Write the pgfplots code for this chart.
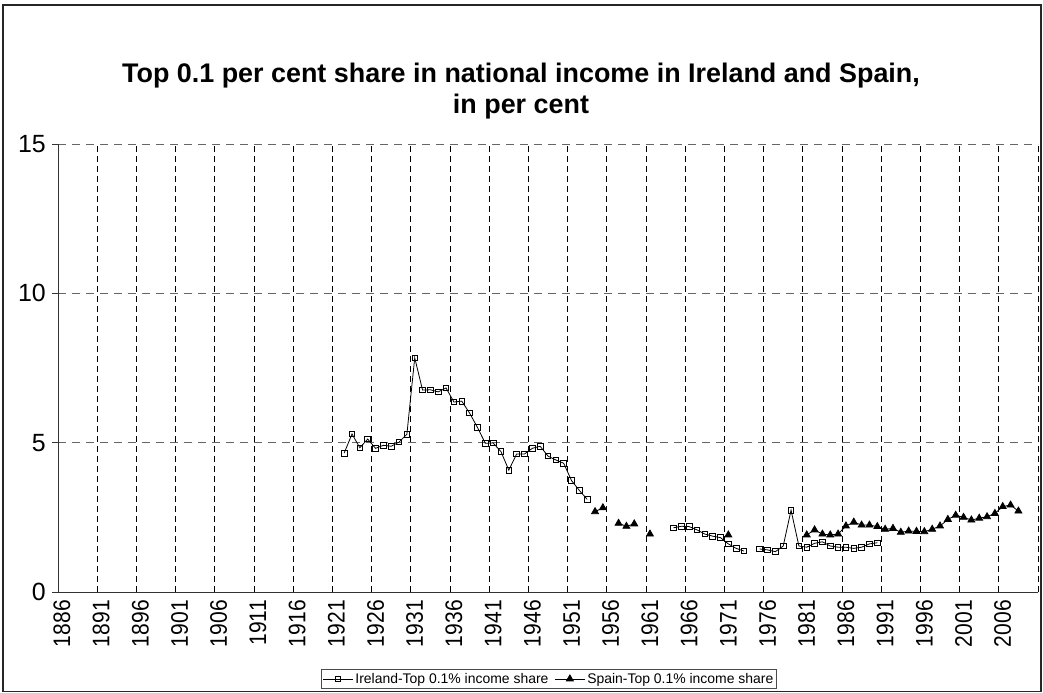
\documentclass[border=0pt]{standalone}
\usepackage{fontspec}
\setmainfont{Liberation Sans}
\usepackage{pgfplots}
\pgfplotsset{compat=1.18}
\newcommand\sx[1]{\scalebox{0.88}[1]{#1}}
\begin{document}
\begin{tikzpicture}[x=1bp,y=1bp]
\path (0,0) rectangle (1043,693);
\draw[line width=1.2bp, black!85] (3,1.5) rectangle (1041,688);
\node[font=\fontsize{27}{30.5}\selectfont\bfseries, align=center] at (521,602) {Top 0.1 per cent share in national income in Ireland and Spain,\\in per cent};
\begin{axis}[
  at={(58bp,101bp)}, anchor=south west,
  scale only axis, width=980bp, height=448bp,
  xmin=1885.5, xmax=2010.5, ymin=0, ymax=15,
  axis lines*=left,
  axis line style={black!80, line width=0.9bp},
  /pgf/number format/assume math mode=true,
  xtick={1886,1891,...,2006},
  xticklabels={\sx{1886},\sx{1891},\sx{1896},\sx{1901},\sx{1906},\sx{1911},\sx{1916},\sx{1921},\sx{1926},\sx{1931},\sx{1936},\sx{1941},\sx{1946},\sx{1951},\sx{1956},\sx{1961},\sx{1966},\sx{1971},\sx{1976},\sx{1981},\sx{1986},\sx{1991},\sx{1996},\sx{2001},\sx{2006}},
  xtick style={draw=none},
  minor xtick={1885.5,1890.5,...,2010.5},
  minor x tick style={black!80, line width=0.9bp},
  minor tick length=6bp,
  xminorgrids=true,
  minor x grid style={black, dash pattern=on 6bp off 4bp, line width=0.8bp},
  ytick={0,5,10,15},
  yticklabels={0,5,10,15},
  ymajorgrids=true,
  major y grid style={black!60, dash pattern=on 8bp off 6bp, line width=0.8bp},
  y tick style={black!80, line width=0.9bp},
  tick align=outside,
  major tick length=6bp,
  xticklabel style={rotate=90, anchor=east, font=\fontsize{24}{24}\selectfont, inner sep=2bp},
  yticklabel style={font=\fontsize{25}{25}\selectfont, inner sep=3bp, xshift=-3bp},
  unbounded coords=jump,
  legend style={at={(0.501,-0.194)}, anchor=center, legend columns=2, draw=black!70, line width=0.8bp,
    font=\fontsize{14}{16}\selectfont, inner sep=1.5bp,
    /tikz/every even column/.append style={column sep=4bp}},
  legend image code/.code={\draw[mark repeat=2,mark phase=2] plot coordinates {(0bp,0bp) (15bp,0bp) (30bp,0bp)};},
]
\addplot[black, line width=0.8bp, mark=square, mark size=2.8bp, mark options={solid, fill=white, line width=0.8bp}] coordinates {
(1922,4.65) (1923,5.29) (1924,4.83) (1925,5.12) (1926,4.81) (1927,4.91) (1928,4.88) (1929,5.02) (1930,5.28)
(1931,7.84) (1932,6.76) (1933,6.77) (1934,6.70) (1935,6.83) (1936,6.36) (1937,6.39) (1938,5.99) (1939,5.51)
(1940,4.98) (1941,4.99) (1942,4.70) (1943,4.08) (1944,4.62) (1945,4.62) (1946,4.81) (1947,4.88) (1948,4.55)
(1949,4.42) (1950,4.31) (1951,3.73) (1952,3.40) (1953,3.10)
(1954,nan)
(1964,2.15) (1965,2.20) (1966,2.19) (1967,2.08) (1968,1.94) (1969,1.87) (1970,1.82) (1971,1.61) (1972,1.46) (1973,1.37)
(1974,nan)
(1975,1.44) (1976,1.41) (1977,1.35) (1978,1.54) (1979,2.74) (1980,1.54) (1981,1.50) (1982,1.63) (1983,1.68)
(1984,1.54) (1985,1.50) (1986,1.50) (1987,1.46) (1988,1.50) (1989,1.61) (1990,1.65)
};
\addlegendentry{Ireland-Top 0.1\% income share}
\addplot[black, line width=0.8bp, mark=triangle*, mark size=4bp, mark options={solid}] coordinates {
(1954,2.69) (1955,2.82) (1956,nan) (1957,2.30) (1958,2.20) (1959,2.28) (1960,nan) (1961,1.94) (1962,nan)
(1971,1.91) (1972,nan)
(1981,1.91) (1982,2.08) (1983,1.94) (1984,1.91) (1985,1.94) (1986,2.21) (1987,2.34) (1988,2.24) (1989,2.24)
(1990,2.19) (1991,2.10) (1992,2.13) (1993,2.00) (1994,2.04) (1995,2.03) (1996,2.02) (1997,2.10) (1998,2.21)
(1999,2.43) (2000,2.57) (2001,2.50) (2002,2.41) (2003,2.47) (2004,2.52) (2005,2.63) (2006,2.86) (2007,2.91) (2008,2.71)
};
\addlegendentry{Spain-Top 0.1\% income share}
\end{axis}
\end{tikzpicture}
\end{document}
